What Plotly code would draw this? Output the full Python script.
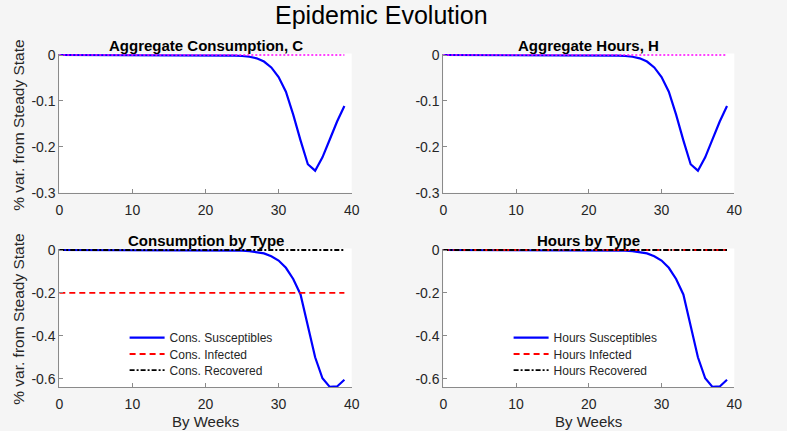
import plotly.graph_objects as go

weeks = list(range(40))

agg_cons = [0, 0, 0, 0, 0, 0, 0, 0, 0, 0,
            0, 0, 0, 0, 0, 0, 0, 0, 0, 0,
            -0.0001, -0.0003, -0.0005, -0.0008, -0.0013, -0.0022, -0.0038, -0.0072, -0.0142, -0.027,
            -0.048, -0.080, -0.130, -0.186, -0.238, -0.252, -0.223, -0.184, -0.145, -0.111]
agg_hours = list(agg_cons)
steady = [0.0] * 40

cons_sus = [0, 0, 0, 0, 0, 0, 0, 0, 0, 0,
            0, 0, 0, 0, 0, 0, 0, 0, 0, 0,
            -0.0002, -0.0004, -0.0007, -0.0011, -0.0019, -0.0032, -0.0055, -0.0095, -0.016, -0.029,
            -0.049, -0.083, -0.135, -0.207, -0.350, -0.500, -0.598, -0.638, -0.636, -0.605]
cons_inf = [-0.2] * 40
cons_rec = [0.0] * 40
hours_sus = list(cons_sus)
hours_inf = [0.0] * 40
hours_rec = [0.0] * 40

x_ticks = [0, 10, 20, 30, 40]
top_ticks = [0, -0.1, -0.2, -0.3]
top_labels = ["0", "-0.1", "-0.2", "-0.3"]
bot_ticks = [0, -0.2, -0.4, -0.6]
bot_labels = ["0", "-0.2", "-0.4", "-0.6"]

W, H = 787, 431
BG = "#f5f5f5"
AX = "#262626"
FONT = "Liberation Sans, Arial, sans-serif"
DASH = "6px,4px"
DASHDOT = "5px,2px,2px,2px"

fig = go.Figure()

def line(x, y, xa, ya, color, width, dash, name=None, legend=None, show=False):
    fig.add_trace(go.Scatter(x=x, y=y, mode="lines", xaxis=xa, yaxis=ya,
                             line=dict(color=color, width=width, dash=dash),
                             name=name, showlegend=show, legend=legend,
                             hoverinfo="skip"))

# top-left
line(weeks, agg_cons, "x", "y", "#0000ff", 2.2, "solid")
line(weeks, steady, "x", "y", "#ff00ff", 1.5, "2px,2px")
# top-right
line(weeks, agg_hours, "x2", "y2", "#0000ff", 2.2, "solid")
line(weeks, steady, "x2", "y2", "#ff00ff", 1.5, "2px,2px")
# bottom-left
line(weeks, cons_sus, "x3", "y3", "#0000ff", 2.2, "solid", "Cons. Susceptibles", "legend", True)
line(weeks, cons_inf, "x3", "y3", "#ff0000", 1.8, DASH, "Cons. Infected", "legend2", True)
line(weeks, cons_rec, "x3", "y3", "#000000", 1.8, DASHDOT, "Cons. Recovered", "legend3", True)
# bottom-right
line(weeks, hours_sus, "x4", "y4", "#0000ff", 2.2, "solid", "Hours Susceptibles", "legend4", True)
line(weeks, hours_inf, "x4", "y4", "#ff0000", 1.8, DASH, "Hours Infected", "legend5", True)
line(weeks, hours_rec, "x4", "y4", "#000000", 1.8, DASHDOT, "Hours Recovered", "legend6", True)

xl = [59.3 / W, 351.7 / W]
xr = [443.3 / W, 734.3 / W]
yt = [(H - 192.7) / H, (H - 53.5) / H]
yb = [(H - 387.3) / H, (H - 248.5) / H]

def xaxis(domain, anchor):
    return dict(domain=domain, anchor=anchor, range=[0, 40], tickvals=x_ticks,
                showline=True, linecolor="#8a8a8a", linewidth=1, mirror=False,
                ticks="inside", ticklen=4, tickcolor="#8a8a8a", showgrid=False,
                zeroline=False, tickfont=dict(size=14, color=AX, family=FONT),
                ticklabelstandoff=4, automargin=False, fixedrange=True)

def yaxis(domain, anchor, rng, tv, tt):
    return dict(domain=domain, anchor=anchor, range=rng, tickvals=tv, ticktext=tt,
                showline=True, linecolor="#8a8a8a", linewidth=1, mirror=False,
                ticks="inside", ticklen=4, tickcolor="#8a8a8a", showgrid=False,
                zeroline=False, tickfont=dict(size=14, color=AX, family=FONT),
                automargin=False, fixedrange=True)

def leg(xpx, ypx):
    return dict(x=xpx / W, y=(H - ypx) / H, xanchor="left", yanchor="middle",
                bgcolor="rgba(0,0,0,0)", borderwidth=0, itemwidth=35,
                font=dict(size=12, color=AX, family=FONT))

fig.update_layout(
    template="none",
    width=W, height=H, autosize=False,
    margin=dict(l=0, r=0, t=0, b=0, pad=0, autoexpand=False),
    paper_bgcolor=BG, plot_bgcolor="#ffffff",
    font=dict(family=FONT, color=AX),
    xaxis=xaxis(xl, "y"), yaxis=yaxis(yt, "x", [-0.3, 0.0033], top_ticks, top_labels),
    xaxis2=xaxis(xr, "y2"), yaxis2=yaxis(yt, "x2", [-0.3, 0.0033], top_ticks, top_labels),
    xaxis3=xaxis(xl, "y3"), yaxis3=yaxis(yb, "x3", [-0.64, 0.007], bot_ticks, bot_labels),
    xaxis4=xaxis(xr, "y4"), yaxis4=yaxis(yb, "x4", [-0.64, 0.007], bot_ticks, bot_labels),
    legend=leg(124.6, 337.7), legend2=leg(124.6, 354.0), legend3=leg(124.6, 370.2),
    legend4=leg(508.6, 337.7), legend5=leg(508.6, 354.0), legend6=leg(508.6, 370.2),
    showlegend=True,
)

def note(text, cx, cy, size, color, bold=False, angle=0):
    return dict(text=("<b>" + text + "</b>") if bold else text,
                x=cx / W, y=(H - cy) / H, xref="paper", yref="paper",
                xanchor="center", yanchor="middle", showarrow=False, textangle=angle,
                font=dict(size=size, color=color, family=FONT))

ann = [note("Epidemic Evolution", 381.5, 15, 25, "#000000")]
for txt, cx, cy in [("Aggregate Consumption, C", 205.5, 45.5), ("Aggregate Hours, H", 588.8, 45.5),
                    ("Consumption by Type", 205.5, 240.5), ("Hours by Type", 588.8, 240.5)]:
    ann.append(note(txt, cx, cy, 15, "#000000", bold=True))
for cy in [125.5, 319.5]:
    ann.append(note("% var. from Steady State", 18.3, cy, 15.5, AX, angle=-90))
for cx in [205.5, 588.8]:
    ann.append(note("By Weeks", cx, 421.5, 15, AX))
fig.update_layout(annotations=ann)

fig.write_html("out.html", config={"displayModeBar": False, "staticPlot": True},
               post_script="document.body.style.margin='0';document.body.style.overflow='hidden';")
